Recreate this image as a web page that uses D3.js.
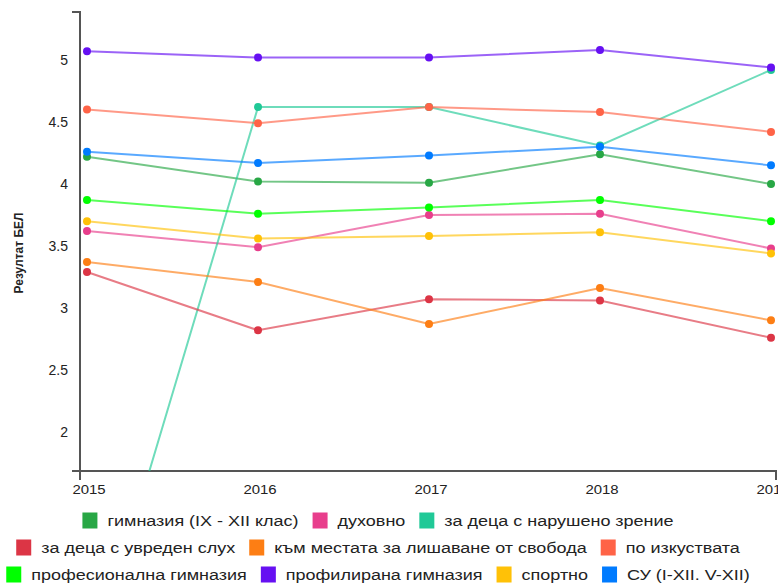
<!DOCTYPE html>
<html>
<head>
<meta charset="utf-8">
<script src="https://cdn.jsdelivr.net/npm/d3@7"></script>
<style>
  body { margin: 0; background: #fff; }
  svg { display: block; font-family: "Liberation Sans", Arial, sans-serif; }
</style>
</head>
<body>
<svg id="chart" width="778" height="585"></svg>
<script>
// години
const years = [2015, 2016, 2017, 2018, 2019];

const seriesNames = [
  'гимназия (IX - XII клас)',
  'духовно',
  'за деца с нарушено зрение',
  'за деца с увреден слух',
  'към местата за лишаване от свобода',
  'по изкуствата',
  'професионална гимназия',
  'профилирана гимназия',
  'спортно',
  'СУ (I-XII. V-XII)'
];

const seriesColors = [
  '#28a745', '#e83e8c', '#20c997', '#dc3545', '#fd7e14',
  '#ff6347', '#00ff00', '#6610f2', '#ffc107', '#007bff'
];

// стойности по години
const gimnazia   = [4.22, 4.02, 4.01, 4.24, 4.00];
const duhovno    = [3.62, 3.49, 3.75, 3.76, 3.48];
const zrenie     = [0.00, 4.62, 4.62, 4.31, 4.92];
const sluh       = [3.29, 2.82, 3.07, 3.06, 2.76];
const svoboda    = [3.37, 3.21, 2.87, 3.16, 2.90];
const izkustva   = [4.60, 4.49, 4.62, 4.58, 4.42];
const profesion  = [3.87, 3.76, 3.81, 3.87, 3.70];
const profilir   = [5.07, 5.02, 5.02, 5.08, 4.94];
const sportno    = [3.70, 3.56, 3.58, 3.61, 3.44];
const su         = [4.26, 4.17, 4.23, 4.30, 4.15];

const yTicks = [2, 2.5, 3, 3.5, 4, 4.5, 5];
const legendRows = [[0, 1, 2], [3, 4, 5], [6, 7, 8, 9]];

const allValues = [gimnazia, duhovno, zrenie, sluh, svoboda, izkustva, profesion, profilir, sportno, su];
const series = seriesNames.map((name, i) => ({
  name,
  color: seriesColors[i],
  values: years.map((yr, j) => ({ year: yr, value: allValues[i][j] }))
}));

const svg = d3.select('#chart');

const x = d3.scalePoint().domain(years).range([87, 771]);
const y = d3.scaleLinear().domain([1.685, 5.387]).range([471, 12]);

// клип за графиката
svg.append('defs').append('clipPath').attr('id', 'plot-clip')
  .append('rect').attr('x', 80).attr('y', 12).attr('width', 700).attr('height', 459);

// оси
const axisG = svg.append('g').attr('class', 'axes');
axisG.append('path')
  .attr('d', 'M72,12H80V480')
  .attr('fill', 'none').attr('stroke', '#555').attr('stroke-width', 2);
axisG.append('path')
  .attr('d', 'M72,471H776V480')
  .attr('fill', 'none').attr('stroke', '#555').attr('stroke-width', 2);

const yAxis = d3.axisLeft(y).tickValues(yTicks).tickSize(0).tickPadding(12)
  .tickFormat(d => d);
svg.append('g')
  .attr('transform', 'translate(80,0)')
  .call(yAxis)
  .call(g => g.select('.domain').remove())
  .selectAll('text')
  .attr('font-size', 14)
  .attr('fill', '#222');

const xAxis = d3.axisBottom(x).tickSize(0).tickPadding(14).tickFormat(d => d);
svg.append('g')
  .attr('transform', 'translate(0,471)')
  .call(xAxis)
  .call(g => g.select('.domain').remove())
  .selectAll('text')
  .attr('font-size', 13)
  .attr('fill', '#222')
  .attr('transform', 'scale(1.15,1)')
  .attr('dx', 0);

// scale(1.15) премества етикетите – връщаме ги по x
svg.selectAll('.tick text').filter(function () {
  return this.getAttribute('transform');
}).each(function () {
  const tx = x(+this.textContent);
  d3.select(this.parentNode).attr('transform', `translate(${tx + 2},0)`);
});

svg.append('text')
  .attr('transform', 'translate(23,253) rotate(-90)')
  .attr('text-anchor', 'middle')
  .attr('font-size', 12)
  .attr('font-weight', 'bold')
  .attr('fill', '#222')
  .text('Резултат БЕЛ');

// линии
const line = d3.line().x(d => x(d.year)).y(d => y(d.value));

const plot = svg.append('g').attr('clip-path', 'url(#plot-clip)');

plot.selectAll('.series-line')
  .data(series)
  .enter()
  .append('path')
  .attr('class', 'series-line')
  .attr('d', d => line(d.values))
  .attr('fill', 'none')
  .attr('stroke', d => d.color)
  .attr('stroke-width', 2)
  .attr('stroke-opacity', 0.65);

const dotGroups = plot.selectAll('.series-dots')
  .data(series)
  .enter()
  .append('g')
  .attr('class', 'series-dots')
  .attr('fill', d => d.color);

dotGroups.selectAll('circle')
  .data(d => d.values)
  .enter()
  .append('circle')
  .attr('cx', d => x(d.year))
  .attr('cy', d => y(d.value))
  .attr('r', 4);

// легенда
const legend = svg.append('g').attr('class', 'legend');
const rowY = [521, 548, 575];
const boxSize = 15;
const textGap = 10;
const itemGap = 14;
const stretch = 1.2;

legendRows.forEach((row, r) => {
  const rowG = legend.append('g');
  let cx = 0;
  row.forEach(idx => {
    const item = rowG.append('g').attr('transform', `translate(${cx},0)`);
    item.append('rect')
      .attr('x', 0).attr('y', -boxSize / 2 - 1)
      .attr('width', boxSize).attr('height', boxSize + 1)
      .attr('fill', seriesColors[idx]);
    const t = item.append('text')
      .attr('transform', `translate(${boxSize + textGap},0) scale(${stretch},1)`)
      .attr('dy', '0.35em')
      .attr('font-size', 15)
      .attr('fill', '#222')
      .text(seriesNames[idx]);
    cx += boxSize + textGap + t.node().getComputedTextLength() * stretch + itemGap;
  });
  const rowWidth = cx - itemGap;
  rowG.attr('transform', `translate(${378 - rowWidth / 2},${rowY[r]})`);
});
</script>
</body>
</html>
